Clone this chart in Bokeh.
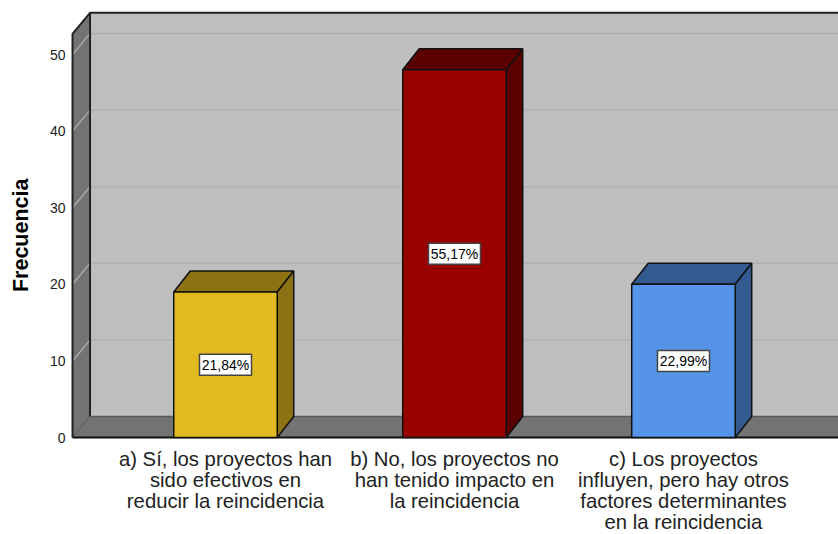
import math
from bokeh.plotting import figure
from bokeh.models import Range1d, LinearAxis, FixedTicker, ColumnDataSource, Label
from bokeh.core.properties import value
from bokeh.embed import file_html
from bokeh.resources import INLINE

categories = [["a) Sí, los proyectos han", "sido efectivos en", "reducir la reincidencia"],
              ["b) No, los proyectos no", "han tenido impacto en", "la reincidencia"],
              ["c) Los proyectos", "influyen, pero hay otros", "factores determinantes", "en la reincidencia"]]
frequencies = [19, 48, 20]
percent_labels = ["21,84%", "55,17%", "22,99%"]
front_colors = ["#E1BA1F", "#990000", "#5594E6"]
side_colors = ["#8C7213", "#5A0000", "#345B90"]
y_ticks = [0, 10, 20, 30, 40, 50]

FONT = "Liberation Sans"
X_MIN, X_MAX = -0.9825, 2.677
Y_MIN, Y_MAX = -12.663, 57.05
X0, X1 = -0.668, X_MAX
DX, DY = 0.0764, 2.74
BAR_DX = 0.072
BW = 0.452
WALL_TOP = 52.7

p = figure(width=838, height=534, output_backend="svg", toolbar_location=None,
           x_range=Range1d(X_MIN, X_MAX), y_range=Range1d(Y_MIN, Y_MAX),
           x_axis_location=None, y_axis_location=None,
           min_border_left=0, min_border_right=0, min_border_top=0, min_border_bottom=0,
           background_fill_color=None, border_fill_color="white", outline_line_color=None)
p.grid.visible = False

p.patch([X0 + DX, X1, X1, X0 + DX], [DY, DY, WALL_TOP + DY, WALL_TOP + DY],
        fill_color="#BEBEBE", line_color=None)
p.patch([X0, X0 + DX, X0 + DX, X0], [0, DY, WALL_TOP + DY, WALL_TOP],
        fill_color="#737373", line_color=None)
p.patch([X0, X1, X1, X0 + DX], [0, 0, DY, DY], fill_color="#737373", line_color=None)

ticks = y_ticks[1:]
p.segment([X0 + DX] * len(ticks), [t + DY for t in ticks], [X1] * len(ticks), [t + DY for t in ticks],
          line_color="#B0B0B0", line_width=1.5)
p.segment([X0] * len(ticks), ticks, [X0 + DX] * len(ticks), [t + DY for t in ticks],
          line_color="#A8A8A8", line_width=1.5)

p.line([X0, X0, X0 + DX, X1], [0, WALL_TOP, WALL_TOP + DY, WALL_TOP + DY], line_color="#222222", line_width=2)
p.line([X0 + DX, X0 + DX], [DY, WALL_TOP + DY], line_color="#222222", line_width=2)
p.line([X0, X0 + DX], [0, DY], line_color="#555555", line_width=1)
p.line([X0 + DX, X1], [DY, DY], line_color="#5A5A5A", line_width=1.5)
p.line([X0, X1], [0, 0], line_color="#111111", line_width=2)

for i, v in enumerate(frequencies):
    l, r = i - BW / 2, i + BW / 2
    p.patch([l, r, r + BAR_DX, l + BAR_DX], [v, v, v + DY, v + DY], fill_color=side_colors[i],
            line_color="#111111", line_width=1.5)
    p.patch([r, r + BAR_DX, r + BAR_DX, r], [0, DY, v + DY, v], fill_color=side_colors[i],
            line_color="#111111", line_width=1.5)
    p.patch([l, r, r, l], [0, 0, v, v], fill_color=front_colors[i],
            line_color="#111111", line_width=1.5)

src = ColumnDataSource(dict(x=list(range(3)), y=[v / 2 for v in frequencies], t=percent_labels))
p.rect("x", "y", width=52, height=21, width_units="screen", height_units="screen", source=src,
       fill_color="white", line_color="#444444", line_width=1.5)
p.text("x", "y", text="t", source=src, text_align="center", text_baseline="middle",
       text_font=value(FONT), text_font_size="14px", text_color="black")

ax = LinearAxis(ticker=FixedTicker(ticks=y_ticks), fixed_location=X0, axis_line_color=None,
                major_tick_line_color=None, minor_tick_line_color=None,
                major_tick_in=0, major_tick_out=0, minor_tick_in=0, minor_tick_out=0,
                major_label_text_font=FONT, major_label_text_font_size="14px",
                major_label_text_color="#222222", major_label_standoff=7)
p.add_layout(ax, "left")

p.add_layout(Label(x=X0, x_offset=-52, y=26.4, text="Frecuencia", angle=math.pi / 2,
                   text_align="center", text_baseline="middle", text_font=FONT,
                   text_font_style="bold", text_font_size="21.5px", text_color="black"))

for i, lines in enumerate(categories):
    for k, t in enumerate(lines):
        p.add_layout(Label(x=i, y=0, y_offset=-(21 + 21.2 * k), text=t, text_align="center",
                           text_baseline="middle", text_font=FONT, text_font_size="20.3px",
                           text_color="#222222"))

open("out.html", "w").write(file_html(p, INLINE))
